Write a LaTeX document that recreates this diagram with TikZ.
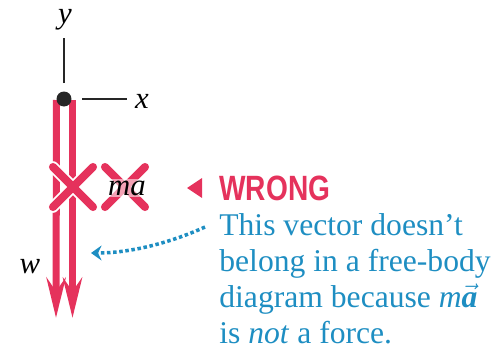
\documentclass[tikz,border=0pt]{standalone}
\usepackage{fontspec}
\usepackage{graphicx}
\setmainfont{Liberation Serif}
\newfontfamily\wrongsans{Liberation Sans}
\usetikzlibrary{arrows.meta,positioning}
\definecolor{forcered}{HTML}{E5325C}
\definecolor{noteblue}{HTML}{1E8EC2}
\newcommand{\arrowvec}[1]{\ensuremath{\vec{\mbox{#1}}}}

\begin{document}
\begin{tikzpicture}[x=0.02cm, y=-0.02cm,
  every node/.style={inner sep=0pt},
  axis/.style={line width=1.1pt, black!85},
  vecline/.style={line width=4pt, forcered,
    -{Stealth[length=0.8cm, width=0.38cm, inset=0.27cm]}},
  crossedge/.style={line width=6.6pt, line cap=round, white},
  crossout/.style={line width=4.6pt, line cap=round, forcered},
  lbl/.style={font=\itshape\fontsize{17.5}{20}\selectfont},
  pointer/.style={noteblue, line width=2pt, dash pattern=on 2pt off 1.5pt,
    -{Stealth[length=6pt, width=8.5pt, inset=2pt]}}]
\useasboundingbox (0,0) rectangle (500,352);

% the two downward vectors
\coordinate (wtop) at (56.5,100);
\coordinate (wtip) at (56,318);
\coordinate (matop) at (72.5,100);
\coordinate (matip) at (72.5,318);
\draw[vecline] (wtop) -- (wtip);
\draw[vecline] (matop) -- (matip);

% origin and axes
\node[circle, fill=black!85, minimum size=0.3cm] (O) at (64,99) {};
\coordinate (yend) at (64,38);
\coordinate (ystart) at (64,83);
\coordinate (xstart) at (82,99);
\coordinate (xend) at (127,99);
\draw[axis] (ystart) -- (yend);
\draw[axis] (xstart) -- (xend);
\node[lbl] (ylbl) at (65,20) {y};
\node[lbl] (xlbl) at (142,101) {x};
\node[lbl] (wlbl) at (30,267) {w};

% crossed out
\foreach \cx in {73,125} {
  \draw[crossedge] (\cx-20,167) -- (\cx+20,207) (\cx-20,207) -- (\cx+20,167);
  \draw[crossout] (\cx-20,167) -- (\cx+20,207) (\cx-20,207) -- (\cx+20,167);
}
\node[lbl, fill=white, fill opacity=0.55, text opacity=1, inner sep=1pt,
  anchor=base west] (malbl) at (106,195) {ma};

% warning
\node[font=\wrongsans\bfseries\fontsize{20}{22}\selectfont, text=forcered,
  anchor=west] (wrong) at (219,188) {\scalebox{0.8}[1]{WRONG}};
\fill[forcered] ([xshift=-0.64cm]wrong.west) -- ++(0.3cm,0.2cm) -- ++(0,-0.4cm) -- cycle;

\node[anchor=north west, align=left, text=noteblue,
  font=\fontsize{18}{20.5}\selectfont] (note) at (219,213)
  {This vector doesn't\\belong in a free-body\\diagram because
   \textit{m}\arrowvec{\bfseries\itshape a}\\is \textit{not} a force.};
\coordinate (notetail) at (205,227);
\coordinate (pointtip) at (91,253);
\draw[pointer] (notetail) .. controls (170,243) and (130,253) .. (pointtip);
\end{tikzpicture}
\end{document}
